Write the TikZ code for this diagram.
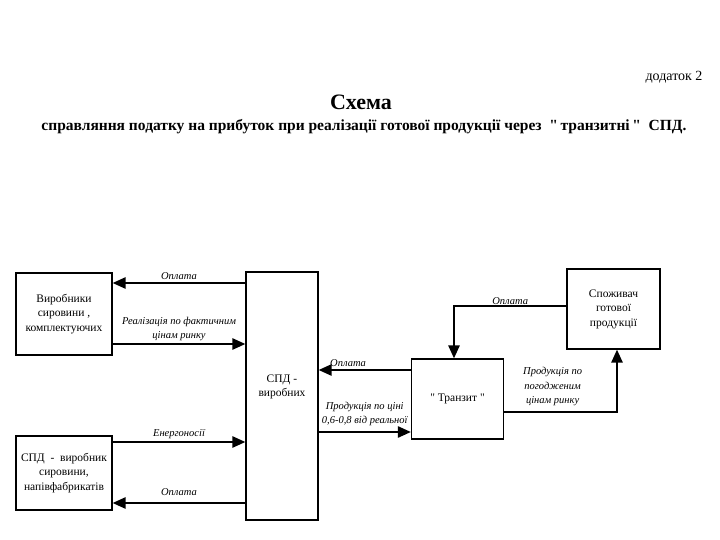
\documentclass[tikz,border=0pt]{standalone}
\usepackage{fontspec}
\setmainfont{Liberation Serif}
\newfontfamily\plainqfont{Liberation Serif}
\usepackage{tikz}
\usetikzlibrary{arrows.meta}
\newcommand{\qq}{{\plainqfont"}}

\begin{document}
\begin{tikzpicture}[x=1pt,y=-1pt,
    box/.style={draw,line width=1.1pt,align=center,font=\fontsize{11.5}{14.5}\selectfont,inner sep=2pt},
    arr/.style={line width=2.4pt,-{Triangle[length=13pt,width=11pt]}},
    lbl/.style={font=\fontsize{10.5}{14.5}\selectfont\itshape,align=center,inner sep=2pt}]
    \useasboundingbox (0,0) rectangle (720,540);
    \node[anchor=east,font=\fontsize{14}{16}\selectfont] (dod) at (706,77) {додаток 2};
    \node[font=\fontsize{22}{24}\selectfont\bfseries] (title) at (361,102) {Схема};
    \node[font=\fontsize{15.5}{17}\selectfont\bfseries] (subtitle) at (364,127) {справляння податку на прибуток при реалізації готової продукції через \ \qq\,транзитні\,\qq\ \ СПД.};
    \node[box,minimum width=96pt,minimum height=82pt] (vyr) at (64,314) {Виробники\\сировини ,\\комплектуючих};
    \node[box,minimum width=96pt,minimum height=74pt] (spdv) at (64,473) {СПД \ - \ виробник\\сировини,\\напівфабрикатів};
    \node[box,minimum width=72pt,minimum height=248pt] (cent) at (282,396) {СПД -\\виробних\\[6pt]};
    \node[box,minimum width=92pt,minimum height=80pt] (tranz) at (457.5,399) {\qq\ Транзит \qq};
    \node[box,minimum width=93pt,minimum height=80pt] (spoz) at (613.5,309) {Споживач\\готової\\продукції};
    \coordinate (c1) at (0,283);
    \coordinate (c2) at (0,344);
    \coordinate (c3) at (0,442);
    \coordinate (c4) at (0,503);
    \coordinate (c5) at (0,370);
    \coordinate (c6) at (0,432);
    \coordinate (k1) at (454,306);
    \coordinate (k2) at (617,412);
    \draw[arr] (cent.west |- c1) -- node[lbl,above] {Оплата} (vyr.east |- c1);
    \draw[arr] (vyr.east |- c2) -- node[lbl,above] {Реалізація по фактичним\\цінам ринку} (cent.west |- c2);
    \draw[arr] (spdv.east |- c3) -- node[lbl,above] {Енергоносії} (cent.west |- c3);
    \draw[arr] (cent.west |- c4) -- node[lbl,above=4pt] {Оплата} (spdv.east |- c4);
    \draw[arr] (tranz.west |- c5) -- node[lbl,above,pos=0.68] {Оплата} (cent.east |- c5);
    \draw[arr] (cent.east |- c6) -- node[lbl,above=3pt] {Продукція по ціні\\0,6-0,8 від реальної} (tranz.west |- c6);
    \draw[arr] (spoz.west |- k1) -- node[lbl,above,inner sep=0pt] {Оплата} (k1) -- (tranz.north -| k1);
    \draw[arr] (tranz.east |- k2) -- node[lbl,above=3pt,pos=0.43] {Продукція по\\погодженим\\цінам ринку} (k2) -- (spoz.south -| k2);
\end{tikzpicture}
\end{document}
